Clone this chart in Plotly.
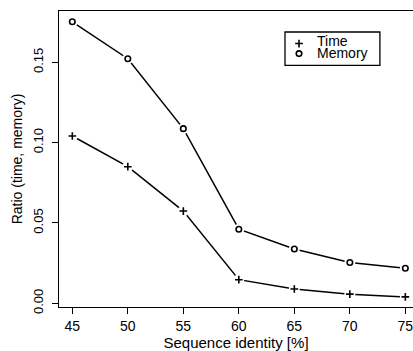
import plotly.graph_objects as go

identity = [45, 50, 55, 60, 65, 70, 75]
time_ratio = [0.1041, 0.0850, 0.0574, 0.0147, 0.0089, 0.0057, 0.0040]
memory_ratio = [0.1752, 0.1522, 0.1087, 0.0461, 0.0338, 0.0254, 0.0218]
y_ticks = [0.0, 0.05, 0.10, 0.15]
y_tick_labels = ["0.00", "0.05", "0.10", "0.15"]
x_ticks = [45, 50, 55, 60, 65, 70, 75]
legend_names = ["Time", "Memory"]

FONT = "Liberation Sans"
fig = go.Figure()

for ys in (time_ratio, memory_ratio):
    fig.add_trace(go.Scatter(x=identity, y=ys, mode="lines",
                             line=dict(color="black", width=1.5),
                             showlegend=False, hoverinfo="skip"))
for ys in (time_ratio, memory_ratio):
    fig.add_trace(go.Scatter(x=identity, y=ys, mode="markers",
                             marker=dict(color="white", size=11, line=dict(width=0)),
                             showlegend=False, hoverinfo="skip"))
fig.add_trace(go.Scatter(x=identity, y=time_ratio, mode="markers", name="Time",
                         marker=dict(symbol="cross-thin", size=5.5, color="black",
                                     line=dict(color="black", width=1.6)),
                         showlegend=False))
fig.add_trace(go.Scatter(x=identity, y=memory_ratio, mode="markers", name="Memory",
                         marker=dict(symbol="circle-open", size=5.5, color="black",
                                     line=dict(color="black", width=1.6)),
                         showlegend=False))

# legend keys on an overlay unit axis
fig.add_trace(go.Scatter(x=[0.678], y=[0.89], xaxis="x2", yaxis="y2", mode="markers",
                         marker=dict(symbol="cross-thin", size=5.5, color="black",
                                     line=dict(color="black", width=1.6)),
                         showlegend=False, hoverinfo="skip"))
fig.add_trace(go.Scatter(x=[0.678], y=[0.856], xaxis="x2", yaxis="y2", mode="markers",
                         marker=dict(symbol="circle-open", size=5.5, color="black",
                                     line=dict(color="black", width=1.6)),
                         showlegend=False, hoverinfo="skip"))

fig.add_shape(type="rect", xref="paper", yref="paper",
              x0=0.6384, x1=0.9065, y0=0.8165, y1=0.929,
              line=dict(color="black", width=1.3), fillcolor="white", layer="below")
fig.add_annotation(text=legend_names[0], xref="paper", yref="paper", x=0.723, y=0.899,
                   xanchor="left", yanchor="middle", showarrow=False,
                   font=dict(family=FONT, size=14, color="black"))
fig.add_annotation(text=legend_names[1], xref="paper", yref="paper", x=0.723, y=0.857,
                   xanchor="left", yanchor="middle", showarrow=False,
                   font=dict(family=FONT, size=14, color="black"))

fig.update_layout(
    width=413, height=351,
    margin=dict(l=59, r=0, t=11, b=44),
    plot_bgcolor="white", paper_bgcolor="white",
    font=dict(family=FONT, color="black"),
    xaxis=dict(range=[43.8, 75.69], tickvals=x_ticks, ticks="outside", ticklen=6,
               tickwidth=1, tickcolor="black", showline=True, linecolor="black",
               linewidth=1.3, mirror=True, showgrid=False, zeroline=False,
               ticklabeloverflow="allow",
               tickfont=dict(size=14, family=FONT),
               title=dict(text="Sequence identity [%]", font=dict(size=15, family=FONT),
                          standoff=6)),
    yaxis=dict(range=[-0.0023, 0.1819], tickvals=y_ticks, ticktext=y_tick_labels,
               ticks="outside", ticklen=6, tickwidth=1, tickcolor="black",
               tickangle=-90, showline=True, linecolor="black", linewidth=1.3,
               mirror=False, showgrid=False, zeroline=False,
               ticklabelstandoff=4,
               tickfont=dict(size=13, family=FONT),
               title=dict(text="Ratio (time, memory)", font=dict(size=14, family=FONT),
                          standoff=4)),
    xaxis2=dict(range=[0, 1], overlaying="x", visible=False, fixedrange=True),
    yaxis2=dict(range=[0, 1], overlaying="y", visible=False, fixedrange=True),
)

fig.write_html("out.html")
